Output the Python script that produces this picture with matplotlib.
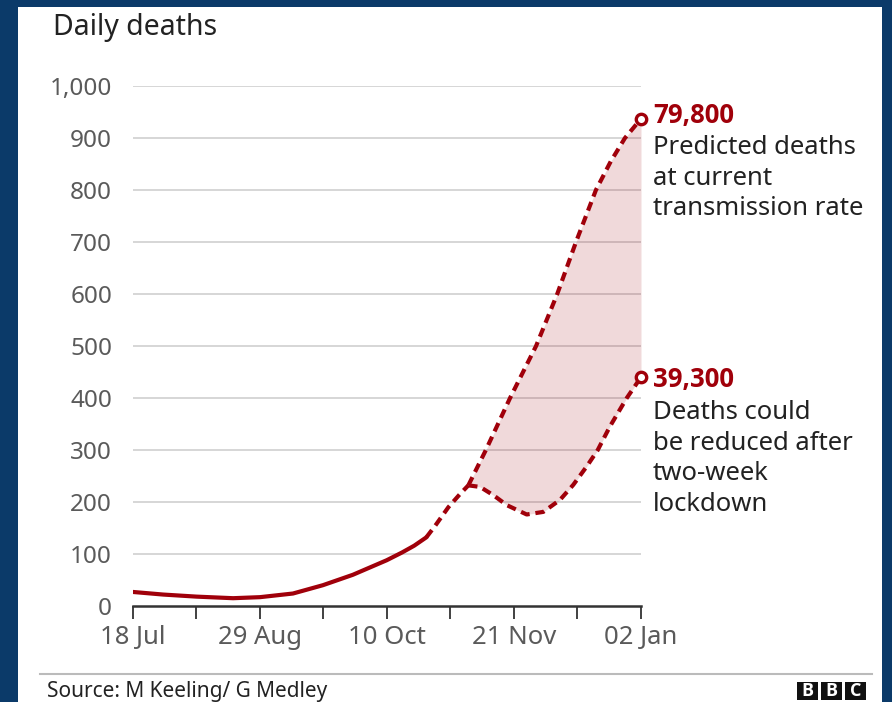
import matplotlib.pyplot as plt
from matplotlib.patches import Rectangle
import numpy as np

plt.rcParams['font.family'] = ['Noto Sans', 'DejaVu Sans']

# days since 18 Jul
solid_days = [0, 10, 21.1, 33.1, 42, 52.9, 62.8, 72.7, 83.9, 89, 93, 97]
solid_vals = [27, 22, 18, 15, 17, 24, 40, 60, 88, 103, 116, 132]

link_days = [97, 99.9, 104.3, 108.1, 110.9]
link_vals = [132, 154, 190, 215, 232]

upper_days = [110.9, 116.7, 124.7, 133.3, 140.3, 146.5, 153.1, 158, 162.7, 168]
upper_vals = [232, 300, 400, 500, 600, 700, 800, 855, 900, 937]

lower_days = [110.9, 114.8, 119.2, 123.6, 130.2, 135.7, 141.2, 145.6, 150.0, 153.7,
              157.7, 163.3, 168]
lower_vals = [232, 229, 213, 194, 176, 181, 204, 233, 268, 300, 345, 400, 440]

tick_days = [0, 21, 42, 63, 84, 105, 126, 147, 168]
tick_labels = ['18 Jul', '', '29 Aug', '', '10 Oct', '', '21 Nov', '', '02 Jan']
y_ticks = list(range(0, 1001, 100))

upper_label = '79,800'
upper_text = 'Predicted deaths\nat current\ntransmission rate'
lower_label = '39,300'
lower_text = 'Deaths could\nbe reduced after\ntwo-week\nlockdown'

red = '#a0000a'
navy = '#0b3a69'

W, H = 892, 702
fig = plt.figure(figsize=(W / 100, H / 100), dpi=100)
fig.patch.set_facecolor(navy)
fig.patches.append(Rectangle((18 / W, 0), (882 - 18) / W, (H - 7) / H,
                             transform=fig.transFigure, facecolor='white',
                             edgecolor='none', zorder=-5))

ax = fig.add_axes([133 / W, (H - 606) / H, (641 - 133) / W, (606 - 86) / H])
ax.set_facecolor('none')
ax.set_zorder(2)
ax.set_xlim(0, 168)
ax.set_ylim(0, 1000)

for y in y_ticks[1:]:
    ax.axhline(y, color='#cfcfcf', lw=1.2, zorder=1)

# shaded range between the two scenarios
ud = np.array(upper_days)
ld = np.array(lower_days)
common = np.union1d(ud, ld)
ax.fill_between(common, np.interp(common, ld, lower_vals), np.interp(common, ud, upper_vals),
                color=red, alpha=0.15, lw=0, zorder=2)

ax.plot(solid_days, solid_vals, color=red, lw=3.0, solid_capstyle='round',
        solid_joinstyle='round', zorder=4)
dash = dict(color=red, lw=3.0, dashes=(2.2, 1.4), zorder=4, clip_on=False)
ax.plot(link_days, link_vals, **dash)
ax.plot(upper_days, upper_vals, **dash)
ax.plot(lower_days, lower_vals, **dash)
ax.plot([upper_days[-1], lower_days[-1]], [upper_vals[-1], lower_vals[-1]], 'o', ms=7.5,
        mfc='white', mec=red, mew=2.4, zorder=5, clip_on=False)

for s in ['top', 'right', 'left']:
    ax.spines[s].set_visible(False)
ax.spines['bottom'].set_color('#333333')
ax.spines['bottom'].set_linewidth(1.8)
ax.set_xticks(tick_days)
ax.set_xticklabels(tick_labels)
ax.set_yticks(y_ticks)
ax.set_yticklabels([f'{v:,}' for v in y_ticks])
ax.tick_params(axis='x', length=9, width=1.3, color='#333333', labelsize=18.5,
               labelcolor='#5a5a5a', pad=5)
ax.tick_params(axis='y', length=0, labelsize=17.5, labelcolor='#5a5a5a', pad=15)

fig.text(53 / W, 1 - 13 / H, 'Daily deaths', fontsize=20.5, color='#222222', va='top', ha='left')

tx = 653 / W
bold = ['Open Sans', 'DejaVu Sans']
fig.text(tx, 1 - 115 / H, upper_label, fontsize=18.5, color=red, weight='bold', family=bold,
         va='center')
fig.text(tx, 1 - 135 / H, upper_text, fontsize=18.5, color='#222222', va='top', linespacing=1.3)
fig.text(tx, 1 - 380 / H, lower_label, fontsize=18.5, color=red, weight='bold', family=bold,
         va='center')
fig.text(tx, 1 - 400 / H, lower_text, fontsize=18.5, color='#222222', va='top', linespacing=1.3)

fig.add_artist(plt.Line2D([40 / W, 872 / W], [1 - 674 / H, 1 - 674 / H], color='#bbbbbb', lw=1.5,
                          transform=fig.transFigure))
fig.text(47 / W, 1 - 691 / H, 'Source: M Keeling/ G Medley', fontsize=15, color='#222222',
         va='center')

# BBC blocks
for i, letter in enumerate('BBC'):
    x0 = (797 + i * 24) / W
    fig.patches.append(Rectangle((x0, 1 - 700 / H), 21 / W, 18 / H, transform=fig.transFigure,
                                 facecolor='#111111', edgecolor='none', zorder=3))
    fig.text(x0 + 10.5 / W, 1 - 691 / H, letter, fontsize=13, color='white', weight='bold',
             family=bold, ha='center', va='center', zorder=4)

fig.savefig('out.png', dpi=100, facecolor=fig.get_facecolor())
